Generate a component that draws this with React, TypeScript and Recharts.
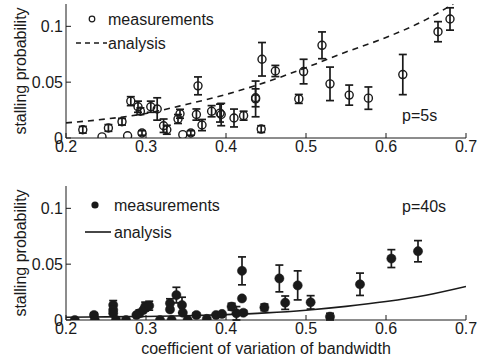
import React from 'react';
import { ComposedChart, Scatter, Line, XAxis, YAxis, ErrorBar } from 'recharts';

const xTicks = [0.2, 0.3, 0.4, 0.5, 0.6, 0.7];
const yTicks = [0, 0.05, 0.1];

const topX = [0.221,0.245,0.253,0.270,0.277,0.281,0.290,0.293,0.295,0.306,0.314,0.322,0.326,0.340,0.3425,0.346,0.356,0.365,0.363,0.370,0.382,0.3925,0.394,0.410,0.422,0.437,0.437,0.444,0.445,0.4617,0.491,0.497,0.520,0.530,0.554,0.578,0.621,0.665,0.680];
const topY = [0.0074,0.001,0.009,0.0146,0.002,0.033,0.028,0.024,0.0045,0.028,0.026,0.011,0.0074,0.017,0.0217,0.003,0.0045,0.0467,0.021,0.0116,0.024,0.0223,0.021,0.0179,0.020,0.035,0.036,0.008,0.0705,0.060,0.035,0.0595,0.083,0.0485,0.0384,0.0357,0.0568,0.0952,0.1066];
const topErr = [0.003,null,0.003,0.003,null,0.004,0.005,0.003,0.002,0.005,0.010,0.006,0.004,0.004,0.004,null,0.002,0.008,0.005,0.005,0.005,0.008,0.010,0.008,0.004,0.016,0.008,0.003,0.015,0.005,0.004,0.011,0.012,0.015,0.009,0.010,0.018,0.009,0.010];

const botX = [0.211,0.235,0.236,0.259,0.259,0.259,0.2625,0.275,0.288,0.2917,0.2967,0.299,0.304,0.3175,0.330,0.330,0.332,0.338,0.345,0.346,0.352,0.363,0.376,0.3875,0.395,0.407,0.413,0.420,0.420,0.4217,0.448,0.4667,0.474,0.4896,0.5058,0.530,0.5675,0.6067,0.640];
const botY = [0,0.0045,0,0.0134,0.009,0.006,0,0,0.0045,0.006,0.009,0.012,0.0128,0,0.015,0.0095,0,0.0223,0.0134,0.0065,0,0.0045,0.001,0.0045,0.0054,0.012,0.006,0.044,0.0193,0.0065,0.0113,0.0372,0.0155,0.031,0.0158,0.003,0.032,0.055,0.0616];
const botErr = [null,0.002,null,0.004,null,null,null,null,null,0.003,null,0.004,0.004,null,0.004,null,null,0.007,0.007,null,null,0.002,null,null,null,0.003,0.006,0.0125,null,0.002,0.003,0.012,0.006,0.013,0.006,0.003,0.010,0.008,0.0095];

const aTopX = [0.2,0.25,0.3,0.35,0.4,0.45,0.5,0.55,0.6,0.65,0.684];
const aTopY = [0.0135,0.017,0.022,0.030,0.039,0.050,0.063,0.077,0.090,0.106,0.12];
const aBotX = [0.2,0.25,0.3,0.35,0.4,0.45,0.5,0.55,0.6,0.65,0.7];
const aBotY = [0.0025,0.0028,0.0032,0.0038,0.0048,0.0064,0.0088,0.0122,0.0165,0.0222,0.030];

const FONT = '"Liberation Sans", Arial, Helvetica, sans-serif';
const INK = '#1a1a1a';

const zipPts = (xs: number[], ys: number[], es?: (number | null)[]) =>
  xs.map((x, i) => (es ? { x, y: ys[i], err: es[i] } : { x, y: ys[i] }));

const topPts = zipPts(topX, topY, topErr);
const botPts = zipPts(botX, botY, botErr);
const topLine = zipPts(aTopX, aTopY);
const botLine = zipPts(aBotX, aBotY);

const tickStyle = { fontSize: 16, fill: INK, fontFamily: FONT };
const fmtY = (v: number) => (v === 0 ? '0' : String(v));

const OpenDot = (p: any) => <circle cx={p.cx} cy={p.cy} r={4} fill="none" stroke={INK} strokeWidth={1.4} />;
const FillDot = (p: any) => <circle cx={p.cx} cy={p.cy} r={4.6} fill={INK} stroke={INK} strokeWidth={0.5} />;

function LegendBox({ filled, pText, pY }: { filled: boolean; pText: string; pY: number }) {
  const t = { fontSize: 16, fill: INK, fontFamily: FONT } as any;
  return (
    <svg width={482} height={180} style={{ display: 'block', position: 'absolute', left: 0, top: 0, pointerEvents: 'none' }}>
      {filled ? (
        <circle cx={95} cy={25} r={3.6} fill={INK} />
      ) : (
        <circle cx={92} cy={19} r={2.8} fill="none" stroke={INK} strokeWidth={1.2} />
      )}
      <text x={filled ? 114 : 108} y={filled ? 31 : 25} style={t}>measurements</text>
      {filled ? (
        <line x1={85} x2={111} y1={52} y2={52} stroke={INK} strokeWidth={1.6} />
      ) : (
        <line x1={76} x2={107} y1={43} y2={43} stroke={INK} strokeWidth={1.5} strokeDasharray="5 4" />
      )}
      <text x={filled ? 114 : 108} y={filled ? 58 : 49} style={t}>analysis</text>
      <text x={402} y={pY} style={t}>{pText}</text>
    </svg>
  );
}

function Panel({ pts, line, filled, height, marginTop, showXLabel }: any) {
  return (
    <ComposedChart width={482} height={height} margin={{ top: marginTop, right: 16, bottom: 12, left: 0 }}>
      <XAxis
        xAxisId="b"
        type="number"
        dataKey="x"
        domain={[0.2, 0.7]}
        ticks={xTicks}
        tick={tickStyle}
        tickSize={-5}
        tickMargin={8}
        height={30}
        stroke={INK}
        allowDataOverflow
        label={showXLabel ? { value: 'coefficient of variation of bandwidth', position: 'bottom', offset: -7, style: { fontSize: 16, fill: INK, fontFamily: FONT } } : undefined}
      />
      <XAxis xAxisId="t" orientation="top" type="number" domain={[0.2, 0.7]} ticks={xTicks} tick={false} tickSize={-5} height={0} stroke={INK} />
      <YAxis
        yAxisId="l"
        type="number"
        domain={[0, 0.12]}
        ticks={yTicks}
        tickFormatter={fmtY}
        tick={tickStyle}
        tickSize={-5}
        tickMargin={8}
        width={66}
        stroke={INK}
        allowDataOverflow
        label={{ value: 'stalling probability', angle: -90, position: 'insideLeft', offset: 20, style: { textAnchor: 'middle', fontSize: 16, fill: INK, fontFamily: FONT } }}
      />
      <YAxis yAxisId="r" orientation="right" type="number" domain={[0, 0.12]} ticks={yTicks} tick={false} tickSize={-5} width={0} stroke={INK} />
      <Line
        xAxisId="b"
        yAxisId="l"
        data={line}
        dataKey="y"
        type="monotone"
        stroke={INK}
        strokeWidth={1.6}
        strokeDasharray={filled ? undefined : '6 5'}
        dot={false}
        isAnimationActive={false}
        name="analysis"
      />
      <Scatter
        xAxisId="b"
        yAxisId="l"
        data={pts}
        dataKey="y"
        shape={filled ? FillDot : OpenDot}
        isAnimationActive={false}
        name="measurements"
      >
        <ErrorBar dataKey="err" direction="y" width={4} stroke={INK} strokeWidth={1.7} isAnimationActive={false} />
      </Scatter>
    </ComposedChart>
  );
}

export default function App() {
  return (
    <div style={{ position: 'absolute', left: 0, top: 0, width: 482, height: 362, background: '#fff' }}>
      <div style={{ position: 'absolute', left: 0, top: 0, width: 482, height: 180 }}>
        <Panel pts={topPts} line={topLine} filled={false} height={180} marginTop={4} showXLabel={false} />
        <LegendBox filled={false} pText="p=5s" pY={121} />
      </div>
      <div style={{ position: 'absolute', left: 0, top: 180, width: 482, height: 182 }}>
        <Panel pts={botPts} line={botLine} filled={true} height={182} marginTop={6} showXLabel={true} />
        <LegendBox filled={true} pText="p=40s" pY={32} />
      </div>
    </div>
  );
}
